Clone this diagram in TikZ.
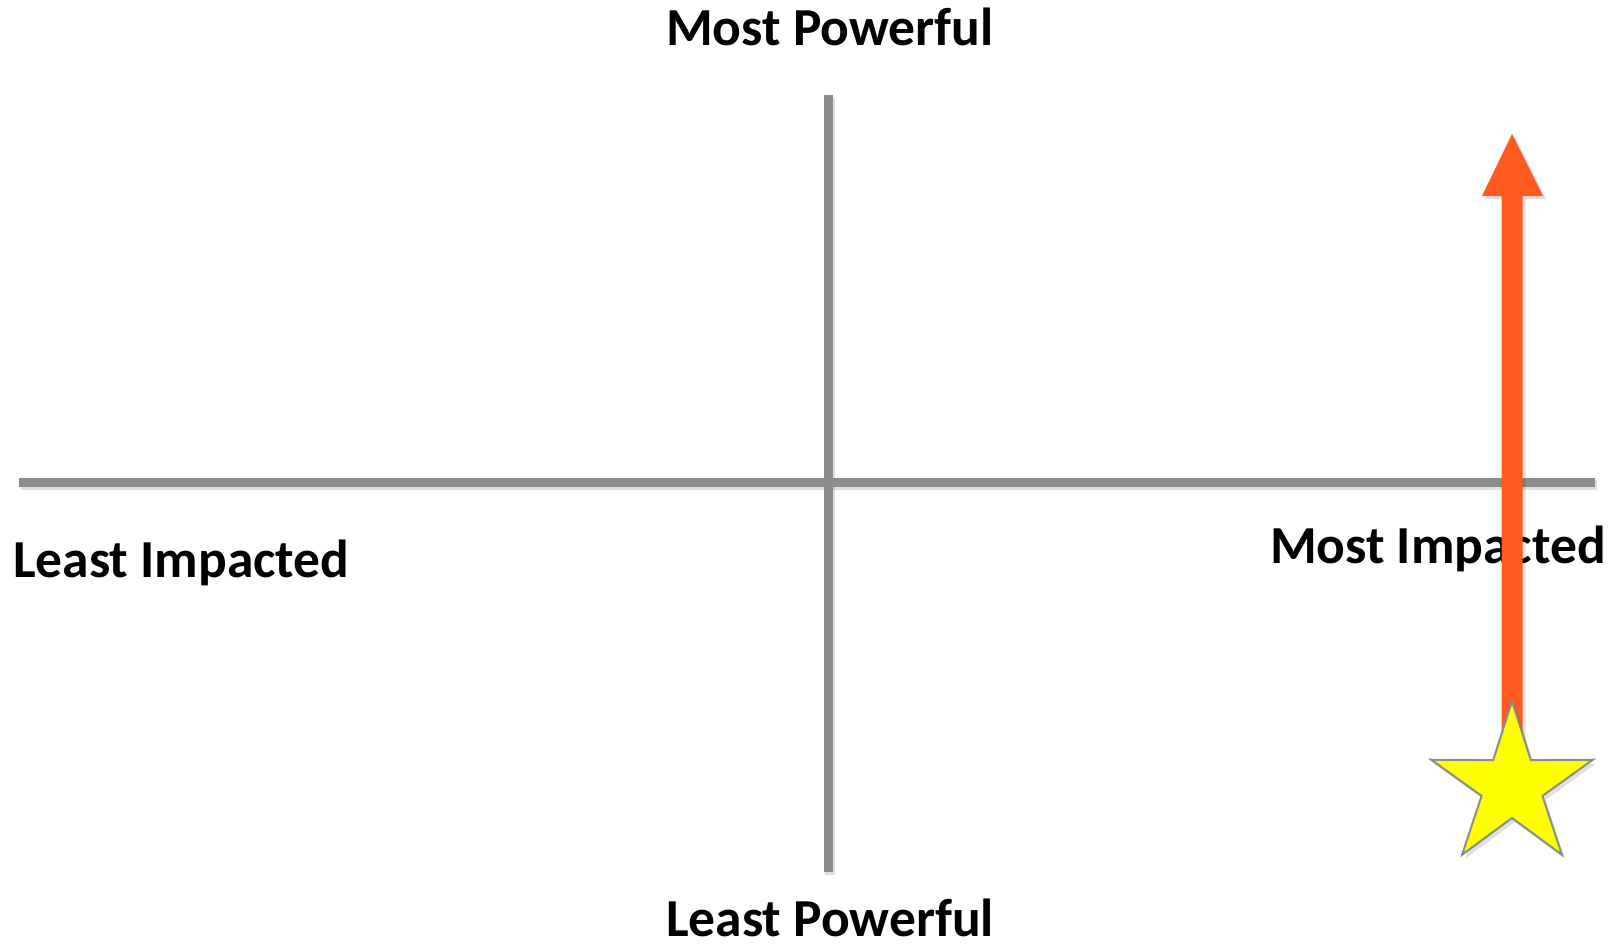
\documentclass[tikz,border=0pt]{standalone}
\usepackage{fontspec}
\setmainfont{Carlito}
\definecolor{axisgray}{HTML}{8C8C8C}
\definecolor{arroworange}{HTML}{FF5A1F}
\definecolor{staryellow}{HTML}{FFFF00}
\tikzset{
  axisline/.style={draw=axisgray, line width=9pt},
  axisshadow/.style={draw=black, opacity=0.12, line width=10pt},
  lbl/.style={font=\fontsize{53.5}{60}\selectfont\bfseries, inner sep=0pt, text=black},
  orangefill/.style={fill=arroworange, draw=none},
  shadowfill/.style={fill=black, opacity=0.12, draw=none},
  starstyle/.style={fill=staryellow, draw=axisgray, line width=2pt, line join=miter},
}
\begin{document}
\begin{tikzpicture}[x=1pt,y=-1pt]
\useasboundingbox (0,0) rectangle (1624,945);
% axis coordinates
\coordinate (hL) at (19,482);
\coordinate (hR) at (1595,482);
\coordinate (vT) at (828,95);
\coordinate (vB) at (828,872);
% shadows
\draw[axisshadow] ([shift={(2,3)}]hL) -- ([shift={(2,3)}]hR);
\draw[axisshadow] ([shift={(2,3)}]vT) -- ([shift={(2,3)}]vB);
% axes
\draw[axisline] (hL) -- (hR);
\draw[axisline] (vT) -- (vB);
% labels
\node[lbl, anchor=base west] (mp) at (666,45) {Most Powerful};
\node[lbl, anchor=base west] (lp) at (666,936) {Least Powerful};
\node[lbl, anchor=base west] (li) at (13,577) {Least Impacted};
\node[lbl, anchor=base east] (mi) at (1606,563) {Most Impacted};
% arrow
\coordinate (tip) at (1512,134);
\path[shadowfill] (1503.5,199) -- (1485,199) -- (1515,137) -- (1546,199) -- (1525.5,199) -- (1525.5,740) -- (1503.5,740) -- cycle;
\path[orangefill] (1501.5,196) -- (1482,196) -- (tip) -- (1543,196) -- (1522.5,196) -- (1522.5,740) -- (1501.5,740) -- cycle;
% star
\coordinate (sc) at (1512,786);
\coordinate (scs) at (1515,790);
\path[shadowfill] ([shift={(270:85)}]scs)
  \foreach \a/\r in {306/32,342/85,18/32,54/85,90/32,126/85,162/32,198/85,234/32} { -- ([shift={(\a:\r)}]scs) } -- cycle;
\path[starstyle] ([shift={(270:85)}]sc)
  \foreach \a/\r in {306/32,342/85,18/32,54/85,90/32,126/85,162/32,198/85,234/32} { -- ([shift={(\a:\r)}]sc) } -- cycle;
\end{tikzpicture}
\end{document}
